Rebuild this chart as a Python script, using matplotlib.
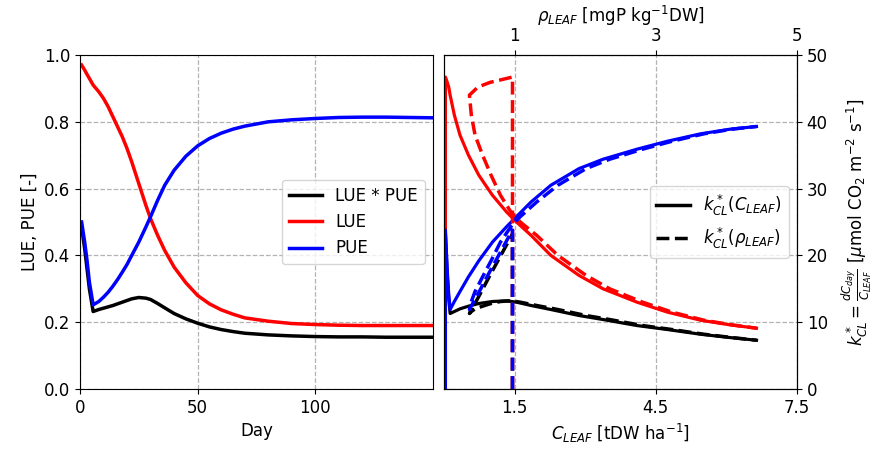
import matplotlib
matplotlib.use("Agg")
import matplotlib.pyplot as plt

plt.rcParams["font.size"] = 12

# ---- left panel: efficiencies over the season ----
day = [0.7, 2, 3, 4, 5.6, 8, 10, 12, 14, 16, 18, 20, 22, 25, 28, 30, 33, 36,
       40, 45, 50, 55, 60, 65, 70, 80, 90, 100, 110, 120, 130, 140, 150]
lue = [0.97, 0.955, 0.942, 0.93, 0.91, 0.89, 0.87, 0.845, 0.815, 0.785, 0.755,
       0.72, 0.68, 0.615, 0.55, 0.51, 0.46, 0.415, 0.365, 0.318, 0.28, 0.255,
       0.237, 0.224, 0.213, 0.203, 0.196, 0.193, 0.191, 0.19, 0.19, 0.19, 0.19]
pue = [0.50, 0.44, 0.385, 0.32, 0.252, 0.262, 0.275, 0.29, 0.308, 0.328, 0.35,
       0.373, 0.40, 0.44, 0.485, 0.516, 0.565, 0.61, 0.655, 0.697, 0.728, 0.75,
       0.766, 0.778, 0.787, 0.80, 0.806, 0.81, 0.813, 0.814, 0.814, 0.813, 0.812]
lue_pue = [0.485, 0.42, 0.36, 0.30, 0.232, 0.238, 0.242, 0.246, 0.25, 0.255,
           0.26, 0.265, 0.27, 0.274, 0.272, 0.268, 0.256, 0.243, 0.226, 0.21,
           0.197, 0.186, 0.178, 0.172, 0.167, 0.162, 0.159, 0.157, 0.156,
           0.156, 0.155, 0.155, 0.155]

# ---- right panel: k*_CL against leaf carbon / leaf P ----
c_leaf = [0.03, 0.03, 0.07, 0.10, 0.13, 0.22, 0.34, 0.52, 0.74, 1.03, 1.33,
          1.54, 1.85, 2.27, 2.87, 3.38, 4.10, 4.75, 5.45, 6.08, 6.64]
rho_leaf = [0.97, 0.97, 0.65, 0.48, 0.36, 0.387, 0.44, 0.547, 0.667, 0.80,
            0.947, 1.08, 1.313, 1.613, 2.013, 2.347, 2.813, 3.233, 3.68, 4.08,
            4.427]
k_lue = [0, 46.7, 45.9, 45.2, 44.0, 41.0, 38.0, 35.0, 32.0, 29.0, 26.5, 25.0,
         23.0, 20.0, 17.0, 15.0, 13.0, 11.5, 10.3, 9.6, 9.1]
k_pue = [0, 23.8, 17.6, 14.2, 11.9, 13.1, 14.6, 16.8, 19.2, 22.0, 24.3, 25.8,
         28.0, 30.5, 33.0, 34.4, 35.9, 37.1, 38.2, 38.9, 39.3]
k_both = [0, 23.2, 17.0, 13.6, 11.3, 11.6, 12.0, 12.4, 12.8, 13.1, 13.2, 13.0,
          12.5, 11.9, 11.0, 10.4, 9.5, 8.9, 8.2, 7.7, 7.3]

fig = plt.figure(figsize=(8.73, 4.57), dpi=100)
ax1 = fig.add_axes([0.0916, 0.1488, 0.4044, 0.7308])
ax2 = fig.add_axes([0.5086, 0.1488, 0.4043, 0.7308])

grid_kw = dict(color="0.7", linestyle="--", linewidth=0.9)

# left
ax1.plot(day, lue_pue, color="black", lw=2.5, label="LUE * PUE")
ax1.plot(day, lue, color="red", lw=2.5, label="LUE")
ax1.plot(day, pue, color="blue", lw=2.5, label="PUE")
ax1.set_xlim(0, 150)
ax1.set_ylim(0, 1)
ax1.set_xticks([0, 50, 100])
ax1.set_yticks([0, 0.2, 0.4, 0.6, 0.8, 1.0])
ax1.set_xlabel("Day")
ax1.set_ylabel("LUE, PUE [-]")
ax1.grid(**grid_kw)
ax1.legend(loc="center right")

# right (solid vs C_LEAF)
ax2.plot(c_leaf, k_both, color="black", lw=2.3)
ax2.plot(c_leaf, k_lue, color="red", lw=2.3)
ax2.plot(c_leaf, k_pue, color="blue", lw=2.3)
ax2.set_xlim(0, 7.5)
ax2.set_ylim(0, 50)
ax2.set_xticks([1.5, 4.5, 7.5])
ax2.set_yticks([0, 10, 20, 30, 40, 50])
ax2.yaxis.tick_right()
ax2.yaxis.set_label_position("right")
ax2.set_xlabel(r"$C_{LEAF}$ [tDW ha$^{-1}$]")
ax2.set_ylabel(r"$k^*_{CL} = \frac{dC_{day}}{C_{LEAF}}$ [$\mu$mol CO$_2$ m$^{-2}$ s$^{-1}$]",
               labelpad=8)
ax2.grid(**grid_kw)

# right (dashed vs rho_LEAF, top axis)
ax3 = ax2.twiny()
ax3.plot(rho_leaf, k_both, color="black", lw=2.5, ls="--")
ax3.plot(rho_leaf, k_lue, color="red", lw=2.5, ls="--")
ax3.plot(rho_leaf, k_pue, color="blue", lw=2.5, ls="--")
ax3.set_xlim(0, 5)
ax3.set_xticks([1, 3, 5])
ax3.set_xlabel(r"$\rho_{LEAF}$ [mgP kg$^{-1}$DW]")

handles = [plt.Line2D([], [], color="black", lw=2.5),
           plt.Line2D([], [], color="black", lw=2.5, ls="--")]
ax3.legend(handles, [r"$k^*_{CL}(C_{LEAF})$", r"$k^*_{CL}(\rho_{LEAF})$"],
           loc="center right")

plt.savefig("out.png", dpi=100)
